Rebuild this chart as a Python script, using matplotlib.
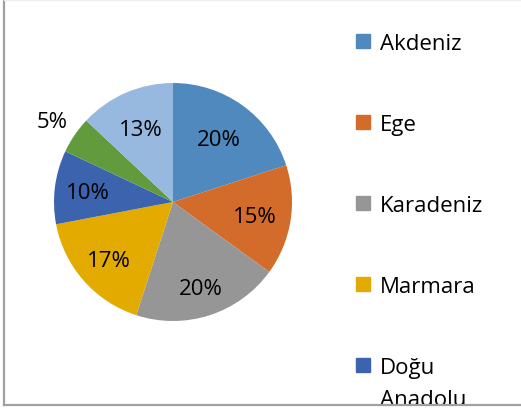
import numpy as np
import matplotlib.pyplot as plt
from matplotlib.patches import Rectangle
from matplotlib.lines import Line2D

plt.rcParams['font.family'] = ['Open Sans', 'DejaVu Sans']

# data
regions = ["Akdeniz", "Ege", "Karadeniz", "Marmara", "Doğu Anadolu",
           "İç Anadolu", "Güneydoğu Anadolu"]
shares = [20, 15, 20, 17, 10, 5, 13]
legend_labels = ["Akdeniz", "Ege", "Karadeniz", "Marmara", "Doğu\nAnadolu"]
colors = ["#4F89BE", "#D36B2A", "#969696", "#E3AB00", "#3C64AE", "#629A3E", "#97B9DF"]

# radial position of each percent label (fraction of radius), "best fit" look
label_dist = [0.66, 0.70, 0.75, 0.72, 0.72, 1.23, 0.68]

W, H = 521, 411
fig = plt.figure(figsize=(W / 100, H / 100), dpi=100)

# pie centre (173, 202) px, radius 119 px
cx, cy, r = 173, 202, 119
ax = fig.add_axes([(cx - r) / W, (H - cy - r) / H, 2 * r / W, 2 * r / H])
pd0 = 0.7
wedges, _, autotexts = ax.pie(shares, colors=colors, startangle=90, counterclock=False,
                              autopct='%1.0f%%', pctdistance=pd0, radius=1,
                              wedgeprops=dict(linewidth=0),
                              textprops=dict(fontsize=16, color='black'))
ax.set_xlim(-1, 1)
ax.set_ylim(-1, 1)
ax.set_aspect('auto')
ax.axis('off')

for t, d in zip(autotexts, label_dist):
    t.set_clip_on(False)
    t.set_va('center_baseline')
    x, y = t.get_position()
    t.set_position((x / pd0 * d, y / pd0 * d))

# legend drawn by hand (Word style, wide spacing)
baselines = [50.5, 131.5, 212, 293, 374]
for lab, col, yb in zip(legend_labels, colors, baselines):
    fig.patches.append(Rectangle((356 / W, 1 - (yb - 2) / H), 14 / W, 14 / H,
                                 transform=fig.transFigure, color=col, zorder=3))
    for k, line in enumerate(lab.split("\n")):
        fig.text(380 / W, 1 - (yb + 32 * k) / H, line, fontsize=16,
                 va='baseline', ha='left', zorder=3)

# white strip under the frame hides the clipped legend text
fig.patches.append(Rectangle((0, 0), 1, (H - 405) / H, transform=fig.transFigure,
                             color='white', zorder=5))
fig.lines.append(Line2D([4 / W, 4 / W], [(H - 405) / H, 1], transform=fig.transFigure,
                        color='#A0A0A0', linewidth=1.6, zorder=6))
fig.lines.append(Line2D([4 / W, 1], [(H - 405) / H, (H - 405) / H], transform=fig.transFigure,
                        color='#A0A0A0', linewidth=1.6, zorder=6))
fig.lines.append(Line2D([4 / W, 1], [1, 1], transform=fig.transFigure,
                        color='#EEEEEE', linewidth=1, zorder=6))

fig.savefig('out.png', dpi=100)
